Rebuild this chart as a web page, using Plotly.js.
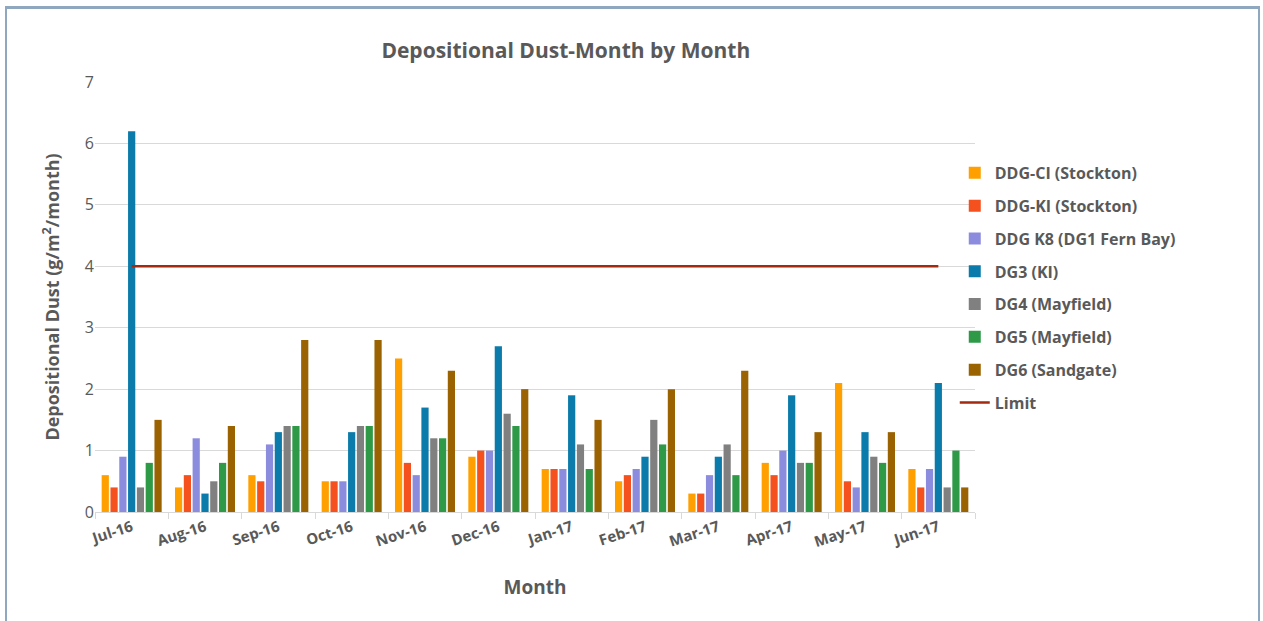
<!DOCTYPE html>
<html><head><meta charset="utf-8">
<script src="https://cdn.plot.ly/plotly-3.0.1.min.js"></script>
<style>
html,body{margin:0;padding:0;background:#fff;overflow:hidden;}
#frame{position:absolute;left:5px;top:6px;width:1251px;height:620px;border-top:3px solid #8FA8BF;border-left:2px solid #8FA8BF;border-right:2px solid #8FA8BF;}
#chart{position:absolute;left:0;top:0;width:1263px;height:621px;}
</style></head>
<body><div id="frame"></div><div id="chart"></div>
<script>
const months = ["Jul-16","Aug-16","Sep-16","Oct-16","Nov-16","Dec-16","Jan-17","Feb-17","Mar-17","Apr-17","May-17","Jun-17"];
const ddgCI = [0.6,0.4,0.6,0.5,2.5,0.9,0.7,0.5,0.3,0.8,2.1,0.7];
const ddgKI = [0.4,0.6,0.5,0.5,0.8,1.0,0.7,0.6,0.3,0.6,0.5,0.4];
const ddgK8 = [0.9,1.2,1.1,0.5,0.6,1.0,0.7,0.7,0.6,1.0,0.4,0.7];
const dg3 = [6.2,0.3,1.3,1.3,1.7,2.7,1.9,0.9,0.9,1.9,1.3,2.1];
const dg4 = [0.4,0.5,1.4,1.4,1.2,1.6,1.1,1.5,1.1,0.8,0.9,0.4];
const dg5 = [0.8,0.8,1.4,1.4,1.2,1.4,0.7,1.1,0.6,0.8,0.8,1.0];
const dg6 = [1.5,1.4,2.8,2.8,2.3,2.0,1.5,2.0,2.3,1.3,1.3,0.4];
const limit = [4,4,4,4,4,4,4,4,4,4,4,4];

const seriesNames = ["DDG-CI (Stockton)","DDG-KI (Stockton)","DDG K8 (DG1 Fern Bay)","DG3 (KI)","DG4 (Mayfield)","DG5 (Mayfield)","DG6 (Sandgate)"];
const seriesData = [ddgCI, ddgKI, ddgK8, dg3, dg4, dg5, dg6];
const colors = ["#FFA000","#F4511E","#8C8CDE","#0A7BAA","#808080","#2E9A48","#9A6200"];

const traces = seriesData.map((d,i)=>({
  type:"bar", name:seriesNames[i], x:months, y:d,
  marker:{color:colors[i]}, legendgroup:"g"+i, hoverinfo:"x+y+name"
}));
traces.push({type:"scatter", mode:"lines", name:"Limit", x:months, y:limit,
  line:{color:"#A3290F", width:2.5}, legendgroup:"g7"});

const gray = "#595959";
const layout = {
  width:1263, height:621,
  margin:{l:95, r:288, t:82, b:109},
  paper_bgcolor:"rgba(0,0,0,0)", plot_bgcolor:"#fff",
  font:{family:"Open Sans, sans-serif", color:gray},
  title:{text:"<b>Depositional Dust-Month by Month</b>", font:{size:21, color:gray, family:"Open Sans, sans-serif"}, x:0.448, xanchor:"center", y:0.918, yanchor:"middle"},
  barmode:"group", bargap:0.16, bargroupgap:0.18,
  xaxis:{title:{text:"<b>Month</b>", font:{size:19, color:gray}, standoff:30},
    tickangle:-18, tickfont:{size:15, color:gray, family:"Open Sans, sans-serif", weight:"bold"},
    showline:true, linecolor:"#D9D9D9", ticks:"outside", tickson:"boundaries", tickcolor:"#D9D9D9", ticklen:6,
    showgrid:false},
  yaxis:{title:{text:"<b>Depositional Dust (g/m<sup>2</sup>/month)</b>", font:{size:18, color:gray}, standoff:20},
    range:[0,7], dtick:1, tickfont:{size:16, color:gray},
    gridcolor:"#D9D9D9", gridwidth:1, zeroline:true, zerolinecolor:"#D9D9D9", showline:false, ticks:""},
  legend:{x:0.977, y:0.828, xanchor:"left", yanchor:"top", font:{size:16, color:gray, weight:"bold"},
    tracegroupgap:9, traceorder:"grouped", bgcolor:"rgba(0,0,0,0)"},
  showlegend:true
};
Plotly.newPlot("chart", traces, layout, {displayModeBar:false, staticPlot:true});
</script>
</body></html>
